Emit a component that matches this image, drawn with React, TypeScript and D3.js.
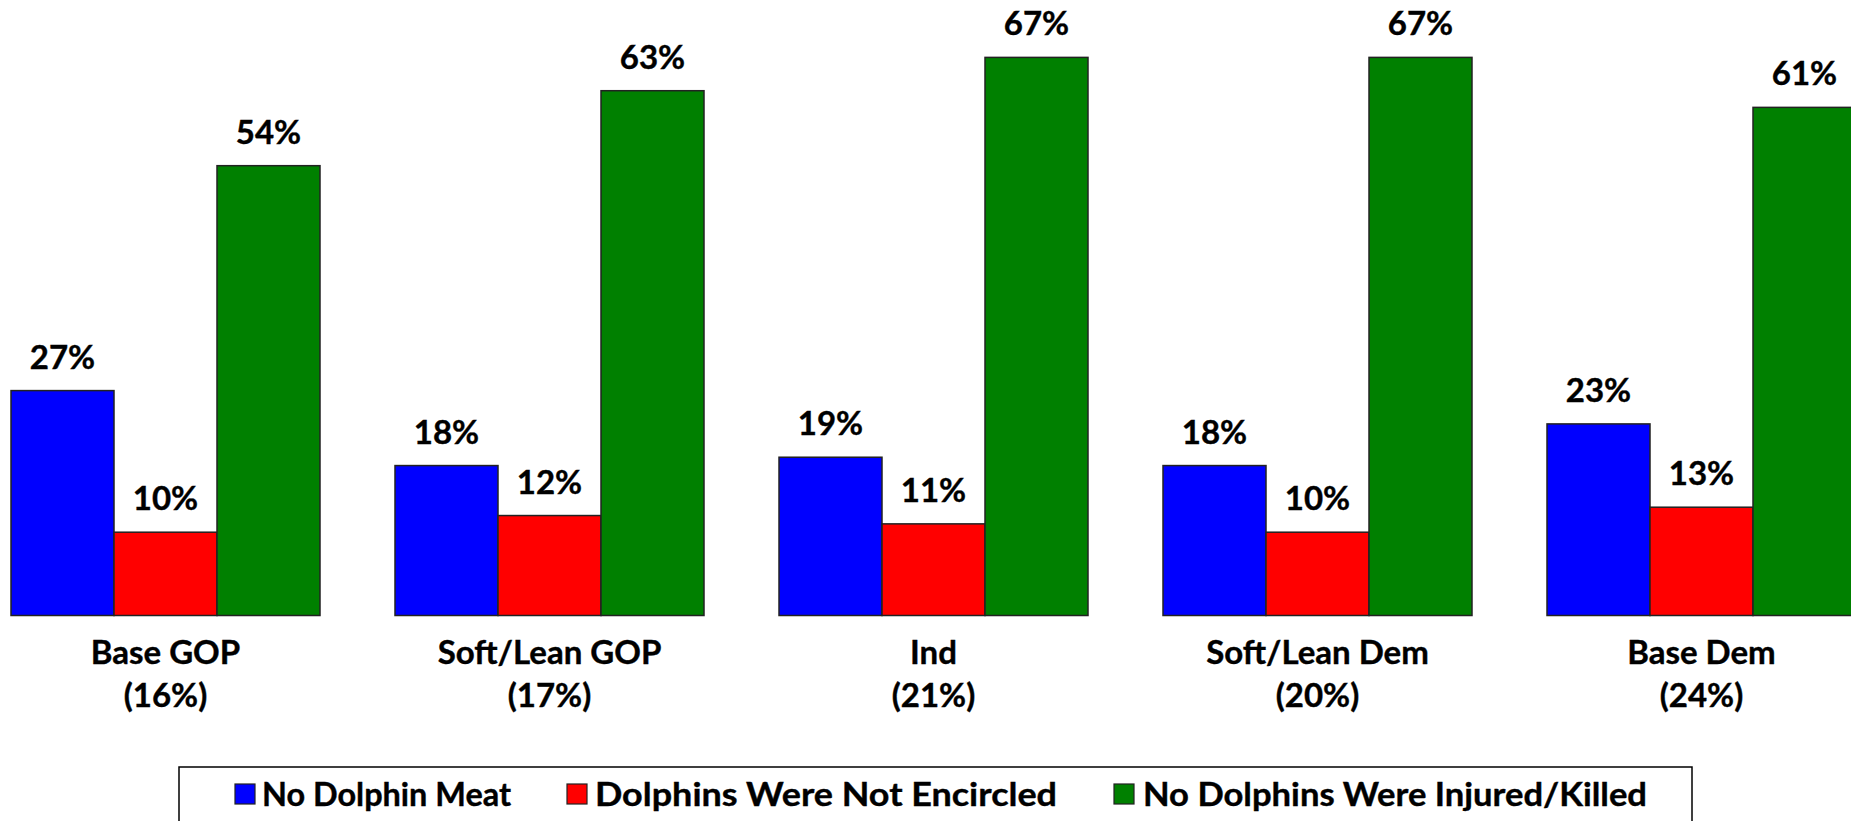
import React from "react";
import * as d3 from "d3";

const categories = ["Base GOP", "Soft/Lean GOP", "Ind", "Soft/Lean Dem", "Base Dem"];
const categoryShares = ["(16%)", "(17%)", "(21%)", "(20%)", "(24%)"];
const seriesNames = ["No Dolphin Meat", "Dolphins Were Not Encircled", "No Dolphins Were Injured/Killed"];
const seriesColors = ["#0000FF", "#FF0000", "#008000"];
const noDolphinMeat = [27, 18, 19, 18, 23];
const notEncircled = [10, 12, 11, 10, 13];
const noneInjured = [54, 63, 67, 67, 61];
const seriesValues = [noDolphinMeat, notEncircled, noneInjured];

const W = 1851;
const H = 821;
const FONT = "Lato, 'Open Sans', sans-serif";
const FS = 33;

export default function App() {
  const baseline = 615.5;
  const x0 = d3
    .scaleBand<string>()
    .domain(categories)
    .range([-26.5, -26.5 + 5 * 384])
    .paddingInner(75 / 384)
    .paddingOuter(75 / 384 / 2);
  const x1 = d3
    .scaleBand<string>()
    .domain(seriesNames)
    .range([0, x0.bandwidth()])
    .padding(0);
  const y = d3.scaleLinear().domain([0, 100]).range([baseline, baseline - 833]);

  const legendItems = [
    { sx: 235, tx: 262, len: 249 },
    { sx: 567, tx: 595, len: 462 },
    { sx: 1114, tx: 1143, len: 504 },
  ];

  return (
    <svg
      width={W}
      height={H}
      style={{ position: "absolute", left: 0, top: 0, background: "#fff" }}
      fontFamily={FONT}
    >
      {categories.map((c, ci) => {
        const gx = x0(c)!;
        const cx = gx + x0.bandwidth() / 2;
        return (
          <g key={c}>
            {seriesNames.map((s, si) => {
              const v = seriesValues[si][ci];
              const bx = gx + x1(s)!;
              const by = y(v);
              return (
                <g key={s}>
                  <rect
                    x={bx}
                    y={by}
                    width={x1.bandwidth()}
                    height={baseline - by}
                    fill={seriesColors[si]}
                    stroke="#222"
                    strokeWidth={1.5}
                  />
                  <text
                    x={bx + x1.bandwidth() / 2}
                    y={by - 22}
                    textAnchor="middle"
                    fontSize={FS}
                    fontWeight={700}
                    fill="#000"
                    stroke="#000"
                    strokeWidth={0.4}
                  >
                    {v}%
                  </text>
                </g>
              );
            })}
            <text x={cx} y={664} textAnchor="middle" fontSize={FS} fontWeight={700} fill="#000" stroke="#000" strokeWidth={0.4}>
              {c}
            </text>
            <text x={cx} y={707} textAnchor="middle" fontSize={FS} fontWeight={700} fill="#000" stroke="#000" strokeWidth={0.4}>
              {categoryShares[ci]}
            </text>
          </g>
        );
      })}
      <rect x={179} y={767} width={1513} height={90} fill="none" stroke="#000" strokeWidth={1.5} />
      {seriesNames.map((s, si) => (
        <g key={s}>
          <rect
            x={legendItems[si].sx}
            y={784}
            width={20}
            height={20}
            fill={seriesColors[si]}
            stroke="#222"
            strokeWidth={1.2}
          />
          <text
            x={legendItems[si].tx}
            y={806}
            fontSize={FS}
            fontWeight={700}
            fill="#000"
            stroke="#000"
            strokeWidth={0.4}
            textLength={legendItems[si].len}
            lengthAdjust="spacingAndGlyphs"
          >
            {s}
          </text>
        </g>
      ))}
    </svg>
  );
}
